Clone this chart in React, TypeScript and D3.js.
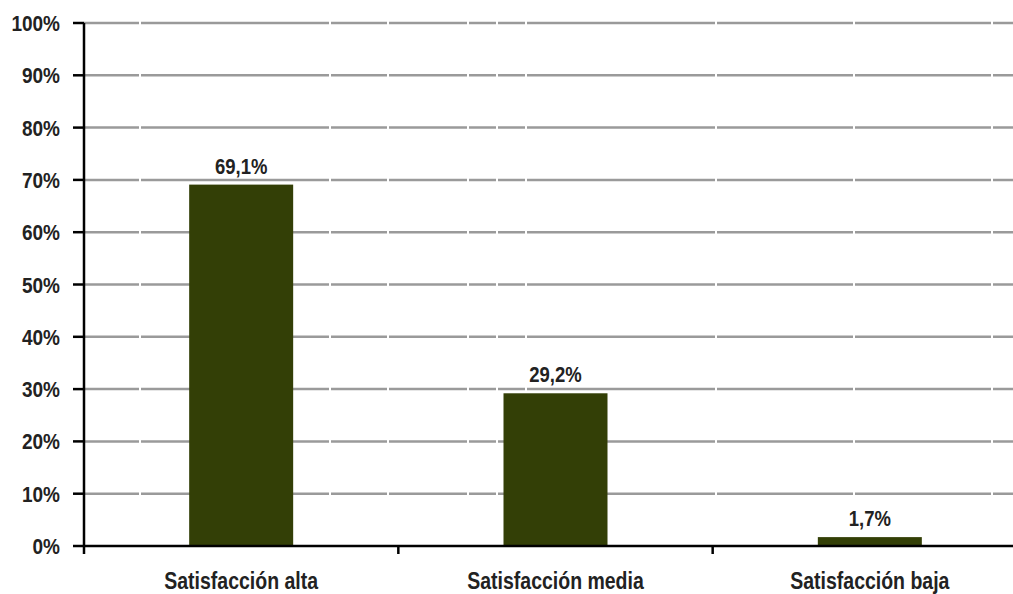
import React from "react";
import * as d3 from "d3";

const categories = ["Satisfacción alta", "Satisfacción media", "Satisfacción baja"];
const values = [69.1, 29.2, 1.7];
const valueLabels = ["69,1%", "29,2%", "1,7%"];
const yTicks = [0, 10, 20, 30, 40, 50, 60, 70, 80, 90, 100];

const W = 1013;
const H = 594;
const left = 84;
const right = 1027;
const top = 23;
const bottom = 546;
const FONT = "'Liberation Sans Narrow', 'Arial Narrow', 'Liberation Sans', sans-serif";
const SY = 1.18;

function T({ x, y, anchor, size, children }: { x: number; y: number; anchor: string; size: number; children: React.ReactNode }) {
  return (
    <text
      transform={`translate(${x},${y}) scale(1,${SY})`}
      textAnchor={anchor}
      fontFamily={FONT}
      fontWeight="bold"
      fontSize={size}
      fill="#222"
    >
      {children}
    </text>
  );
}

export default function App() {
  const x = d3.scaleBand<string>().domain(categories).range([left, right]).paddingInner(0).paddingOuter(0);
  const y = d3.scaleLinear().domain([0, 100]).range([bottom, top]);
  const barW = 104;
  const boundaries = d3.range(categories.length + 1).map((i) => left + i * x.bandwidth());

  return (
    <svg width={W} height={H} style={{ position: "absolute", left: 0, top: 0, background: "#fff" }}>
      {yTicks.filter((t) => t > 0).map((t) => (
        <line
          key={"g" + t}
          x1={left}
          x2={W}
          y1={y(t)}
          y2={y(t)}
          stroke="#9a9a9a"
          strokeWidth={2.5}
          strokeDasharray="55,2,188,2,56,2,78,2,27,2,27,2,188,2,136,2,136,2,300"
        />
      ))}
      {categories.map((c, i) => (
        <rect key={c} x={x(c)! + x.bandwidth() / 2 - barW / 2} y={y(values[i])} width={barW} height={bottom - y(values[i])} fill="#333f06" />
      ))}
      <line x1={left} x2={left} y1={top} y2={bottom} stroke="#000" strokeWidth={2.5} />
      <line x1={left - 1} x2={W} y1={bottom} y2={bottom} stroke="#000" strokeWidth={2.5} />
      {yTicks.map((t) => (
        <g key={"t" + t}>
          <line x1={left - 11} x2={left} y1={y(t)} y2={y(t)} stroke="#000" strokeWidth={2.5} />
          <T x={60} y={y(t) + 8} anchor="end" size={19}>{t + "%"}</T>
        </g>
      ))}
      {boundaries.map((b, i) => (
        <line key={"b" + i} x1={b} x2={b} y1={bottom} y2={bottom + 8} stroke="#000" strokeWidth={2.5} />
      ))}
      {categories.map((c, i) => (
        <T key={"l" + c} x={x(c)! + x.bandwidth() / 2} y={y(values[i]) - 11} anchor="middle" size={18.5}>
          {valueLabels[i]}
        </T>
      ))}
      {categories.map((c) => (
        <T key={"c" + c} x={x(c)! + x.bandwidth() / 2} y={589} anchor="middle" size={19.5}>
          {c}
        </T>
      ))}
    </svg>
  );
}
